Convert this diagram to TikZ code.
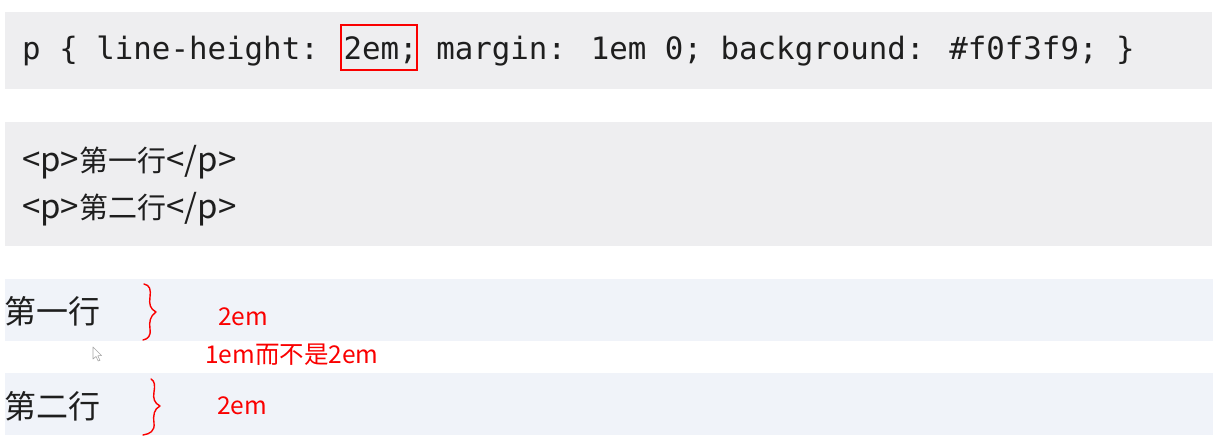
\documentclass[tikz,border=0pt]{standalone}
\usepackage{fontspec}
\newfontfamily\cjk{Noto Sans CJK SC}
\newfontfamily\codefont{DejaVu Sans Mono}
\definecolor{codebg}{RGB}{238,238,240}
\definecolor{rowbg}{RGB}{240,243,249}
\definecolor{redmark}{RGB}{250,0,0}
\definecolor{txt}{RGB}{30,30,30}
\newcommand{\tagtxt}[1]{{\fontsize{33}{36}\selectfont #1}}
\tikzset{
  codetext/.style={anchor=base west, inner sep=0pt, font=\codefont\fontsize{30.8}{36}\selectfont, text=txt},
  htmltext/.style={anchor=base west, inner sep=0pt, font=\cjk\fontsize{29}{32}\selectfont, text=txt},
  rowtext/.style={anchor=base west, inner sep=0pt, font=\cjk\fontsize{32}{36}\selectfont, text=txt},
  note/.style={anchor=base west, inner sep=0pt, font=\cjk\fontsize{24.5}{28}\selectfont, text=redmark},
  brace/.style={draw=redmark, line width=1.4pt, line cap=round, line join=round},
}
\begin{document}
\begin{tikzpicture}[x=1pt,y=-1pt]
\useasboundingbox (0,0) rectangle (1231,443);
\fill[white] (0,0) rectangle (1231,443);
% backgrounds
\fill[codebg] (5,12) rectangle (1212,89);
\fill[codebg] (5,122) rectangle (1212,246);
\fill[rowbg] (5,279) rectangle (1213,341);
\fill[rowbg] (5,373) rectangle (1213,435);
% code line
\node[codetext] (css) at (22,60) {p \{ line-height: 2em; margin: 1em 0; background: \#f0f3f9; \}};
\node[draw=redmark, line width=1.6pt, minimum width=76pt, minimum height=45pt, inner sep=0pt, anchor=north west] (hl) at (340,24) {};
% html
\node[htmltext] (l1) at (22,172) {\tagtxt{<p>}第一行\tagtxt{</p>}};
\node[htmltext] (l2) at (22,219) {\tagtxt{<p>}第二行\tagtxt{</p>}};
% rendered rows
\node[rowtext] (r1) at (4,324) {第一行};
\node[rowtext] (r2) at (4,418) {第二行};
% braces
\draw[brace] (144,284) .. controls (150,285) and (151,290) .. (150,297)
  .. controls (149,304) and (150,309) .. (156,312)
  .. controls (150,316) and (149,322) .. (150,329)
  .. controls (151,336) and (148,339) .. (143,340);
\draw[brace] (151,379) .. controls (155,381) and (155,386) .. (154,392)
  .. controls (153,398) and (154,403) .. (160,406)
  .. controls (154,409) and (153,415) .. (154,423)
  .. controls (155,431) and (150,434) .. (143,435);
% notes
\node[note] (n1) at (218,326) {2em};
\node[note] (n2) at (205,363) {1em而不是2em};
\node[note] (n3) at (217,414) {2em};
% cursor
\draw[gray!70, fill=white, line width=0.6pt, line join=round] (93,347) -- (93,359) -- (96,356.5) -- (98.2,361) -- (100,360.2) -- (97.8,355.8) -- (101.5,355.5) -- cycle;
\end{tikzpicture}
\end{document}
